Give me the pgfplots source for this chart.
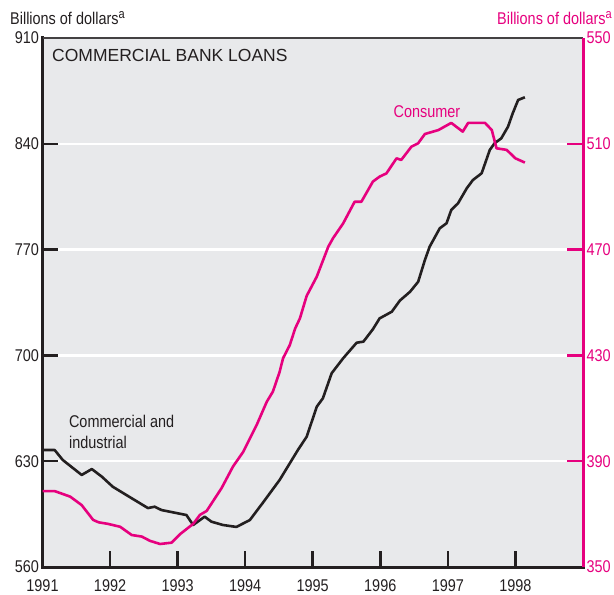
\documentclass[border=0pt]{standalone}
\usepackage{pgfplots}
\pgfplotsset{compat=1.18}
\usepackage{fontspec}
\setmainfont{Liberation Sans}
\newfontfamily\cond{Liberation Sans}[FakeStretch=0.85]
\definecolor{mag}{RGB}{230,0,126}
\definecolor{ink}{RGB}{35,31,32}
\definecolor{bg}{RGB}{232,233,235}
\newcommand{\lab}{\cond\fontsize{17bp}{20bp}\selectfont}
\newcommand{\supa}{\raisebox{6bp}{\fontsize{13bp}{13bp}\selectfont a}}
\begin{document}
\begin{tikzpicture}
\useasboundingbox (-42.5bp,-28bp) rectangle (571.5bp,567bp);
\begin{axis}[
  at={(0,0)}, anchor=south west, scale only axis,
  width=540.5bp, height=529bp,
  xmin=1991, xmax=1999, ymin=560, ymax=910,
  clip=false,
  axis line style={draw=none},
  axis background/.style={fill=bg},
  xtick={1992,...,1998}, extra x ticks={1991},
  extra x tick style={major tick length=0pt},
  ytick={630,700,770,840}, extra y ticks={560,910},
  extra y tick style={major tick length=0pt, grid=none},
  tick align=inside, xtick pos=bottom, ytick pos=left,
  major tick length=16bp,
  tick style={ink, line width=2.5bp},
  ymajorgrids, major grid style={white, line width=2.5bp},
  tick label style={font=\lab, text=ink},
  xticklabel style={yshift=-9bp},
  /pgf/number format/assume math mode=true,
  /pgf/number format/1000 sep={},
]
\addplot[ink, line width=2.6bp, line join=round] coordinates {
(1991.00,637.4) (1991.18,637.4) (1991.30,630.8) (1991.58,620.9) (1991.73,624.8)
(1991.88,619.7) (1992.04,613.1) (1992.29,606.3) (1992.56,599.0) (1992.66,599.9)
(1992.76,597.7) (1993.13,594.4) (1993.23,587.8) (1993.40,593.3) (1993.50,590.0)
(1993.67,587.8) (1993.87,586.5) (1994.07,591.1) (1994.26,602.4) (1994.51,617.6)
(1994.78,637.4) (1994.91,646.2) (1995.06,666.1) (1995.15,671.6) (1995.28,688.2)
(1995.45,698.1) (1995.65,708.4) (1995.75,709.1) (1995.89,717.3) (1995.99,724.5)
(1996.17,728.9) (1996.29,736.3) (1996.44,742.1) (1996.56,748.7) (1996.66,763.1)
(1996.73,771.9) (1996.88,784.1) (1996.98,787.4) (1997.05,796.2) (1997.15,800.6)
(1997.28,810.6) (1997.37,816.0) (1997.50,820.5) (1997.62,835.9) (1997.69,840.3)
(1997.79,843.6) (1997.89,851.3) (1997.96,860.2) (1998.04,869.0) (1998.14,870.8)
};
\draw[ink, line width=3bp, line cap=rect] (rel axis cs:0,1) -- (rel axis cs:0,0) -- (rel axis cs:1,0);
\draw[ink!85, line width=2bp] (rel axis cs:0,1) -- (rel axis cs:1,1);
\node[anchor=base west, font=\fontsize{17.5bp}{20bp}\selectfont, text=ink, inner sep=0pt]
  at ([xshift=9.5bp, yshift=-24bp]rel axis cs:0,1) {COMMERCIAL BANK LOANS};
\node[anchor=base west, font=\lab, text=ink, inner sep=0pt]
  at ([xshift=-32.5bp, yshift=13bp]rel axis cs:0,1) {Billions of dollars\supa};
\node[anchor=base west, font=\lab, text=ink, inner sep=0pt] at (axis cs:1991.39,652) {Commercial and};
\node[anchor=base west, font=\lab, text=ink, inner sep=0pt] at (axis cs:1991.39,638.5) {industrial};
\end{axis}
\begin{axis}[
  at={(0,0)}, anchor=south west, scale only axis,
  width=540.5bp, height=529bp,
  xmin=1991, xmax=1999, ymin=350, ymax=550,
  clip=false,
  axis line style={draw=none},
  xtick=\empty,
  ytick={390,430,470,510}, extra y ticks={350,550},
  extra y tick style={major tick length=0pt},
  tick align=inside, ytick pos=right,
  major tick length=16bp,
  tick style={mag, line width=2.5bp},
  tick label style={font=\lab, text=mag},
  /pgf/number format/assume math mode=true,
  /pgf/number format/1000 sep={},
]
\addplot[mag, line width=2.6bp, line join=round] coordinates {
(1991.00,378.7) (1991.18,378.7) (1991.41,376.6) (1991.58,373.4) (1991.75,367.8)
(1991.83,366.9) (1991.97,366.3) (1992.15,365.2) (1992.32,362.1) (1992.47,361.5)
(1992.59,359.9) (1992.74,358.7) (1992.91,359.2) (1993.04,362.5) (1993.23,366.3)
(1993.33,369.7) (1993.43,371.2) (1993.65,379.8) (1993.82,388.0) (1993.97,393.5)
(1994.17,403.7) (1994.32,412.5) (1994.41,416.3) (1994.51,423.8) (1994.56,428.9)
(1994.66,433.9) (1994.74,440.2) (1994.81,444.0) (1994.91,452.5) (1995.06,459.8)
(1995.23,471.1) (1995.30,474.3) (1995.45,479.9) (1995.62,488.1) (1995.72,488.1)
(1995.89,495.7) (1995.99,497.6) (1996.09,498.8) (1996.24,504.5) (1996.31,503.9)
(1996.46,508.9) (1996.56,510.2) (1996.66,513.7) (1996.86,515.2) (1997.05,517.9)
(1997.22,514.6) (1997.30,517.9) (1997.55,517.9) (1997.65,515.2) (1997.72,508.3)
(1997.87,507.7) (1998.00,504.5) (1998.14,502.9)
};
\draw[mag, line width=3bp] (rel axis cs:1,0) -- (rel axis cs:1,1);
\node[anchor=base, font=\lab, text=mag, inner sep=0pt] at (axis cs:1996.69,520.1) {Consumer};
\node[anchor=base east, font=\lab, text=mag, inner sep=0pt]
  at ([xshift=29bp, yshift=13bp]rel axis cs:1,1) {Billions of dollars\supa};
\end{axis}
\end{tikzpicture}
\end{document}
